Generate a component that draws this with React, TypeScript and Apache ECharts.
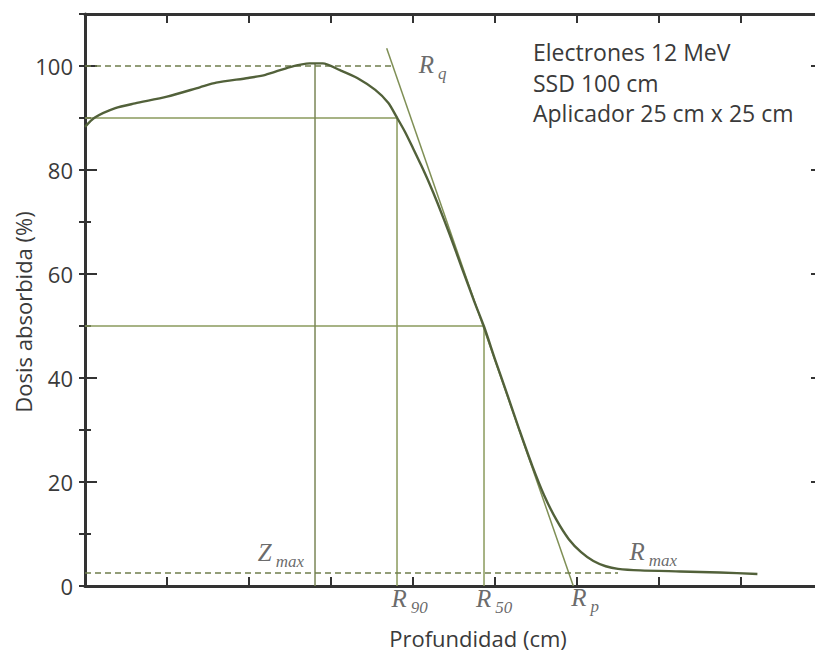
import React, { useEffect, useRef } from "react";
import * as echarts from "echarts";

// Depth (arbitrary units, one per x tick) and absorbed dose (%)
const depth = [0, 0.12, 0.37, 0.61, 1.0, 1.4, 1.6, 1.99, 2.2, 2.5, 2.74, 2.9, 3.11, 3.32, 3.54, 3.7, 3.8, 3.9, 4.0, 4.1, 4.2, 4.3, 4.45, 4.6, 4.75, 4.866, 5.0, 5.15, 5.3, 5.45, 5.6, 5.75, 5.9, 6.05, 6.2, 6.35, 6.5, 6.77, 7.26, 7.74, 8.2];
const dose = [88.3, 90.1, 91.9, 92.8, 94.1, 95.9, 96.8, 97.7, 98.3, 99.8, 100.5, 100.5, 99.2, 97.7, 95.4, 92.9, 90.2, 87.4, 84.2, 80.9, 77.4, 73.6, 67.5, 61.0, 54.6, 49.9, 43.6, 36.8, 29.9, 23.3, 17.4, 12.7, 9.0, 6.5, 4.8, 3.8, 3.3, 3.0, 2.8, 2.6, 2.3];

// Characteristic depths
const zMax = 2.805;
const r90 = 3.805;
const r50 = 4.866;
const rp = 5.955;
const rqTop = [3.679, 103.4];
const dMaxLevel = 100;
const tailLevel = 2.5;
const dashTopEnd = 3.75;
const dashBottomEnd = 6.5;

// Annotation labels: position, main letter, subscript
const labelX = [2.39, 3.96, 4.99, 6.1, 6.93, 4.24];
const labelY = [6.39, -2.46, -2.46, -2.27, 6.58, 100.27];
const labelMain = ["Z", "R", "R", "R", "R", "R"];
const labelSub = ["max", "90", "50", "p", "max", "q"];

const infoLines = ["Electrones 12 MeV", "SSD 100 cm", "Aplicador 25 cm x 25 cm"];
const xName = "Profundidad (cm)";
const yName = "Dosis absorbida (%)";

const AXIS = "#333333";
const TEXT = "#3a3a3a";
const CURVE = "#52613a";
const GUIDE = "#8a9a5c";
const DASH = "#6f7d4c";
const SANS = "Open Sans";
const SERIF = "Liberation Serif";

export default function App() {
  const ref = useRef<HTMLDivElement>(null);
  useEffect(() => {
    if (!ref.current) return;
    const chart = echarts.init(ref.current, undefined, { renderer: "svg" });
    const seg = (pts: number[][], color: string, width: number, dashed = false) => ({
      type: "line",
      data: pts,
      showSymbol: false,
      silent: true,
      lineStyle: { color, width, type: dashed ? [6, 4] : "solid" },
      z: 2,
    });
    const tickAxisX = (position: string) => ({
      type: "value",
      position,
      min: 0,
      max: 9,
      interval: 1,
      axisLine: { show: true, onZero: false, lineStyle: { color: AXIS, width: 3 } },
      axisTick: { show: true, inside: true, length: 9, lineStyle: { color: AXIS, width: 2 } },
      axisLabel: { show: false },
      splitLine: { show: false },
    });
    const majorY = (position: string, labels: boolean) => ({
      type: "value",
      position,
      min: 0,
      max: 110,
      interval: 20,
      axisLine: { show: true, onZero: false, lineStyle: { color: AXIS, width: 3 } },
      axisTick: { show: true, inside: true, length: 12, lineStyle: { color: AXIS, width: 2 } },
      axisLabel: {
        show: labels,
        showMaxLabel: false,
        fontFamily: SANS,
        fontSize: 22,
        color: TEXT,
        margin: 12,
      },
      splitLine: { show: false },
    });
    const minorY = (position: string) => ({
      type: "value",
      position,
      min: 0,
      max: 110,
      interval: 10,
      axisLine: { show: false },
      axisTick: { show: true, inside: true, length: 6, lineStyle: { color: AXIS, width: 2 } },
      axisLabel: { show: false },
      splitLine: { show: false },
    });

    const curveData = depth.map((d, i) => [d, dose[i]]);
    const labelData = labelX.map((x, i) => ({
      value: [x, labelY[i]],
      label: { formatter: `{m|${labelMain[i]}}{s|${labelSub[i]}}` },
    }));

    chart.setOption({
      animation: false,
      backgroundColor: "#ffffff",
      grid: { left: 85, top: 14, right: 7, height: 572 },
      xAxis: [tickAxisX("bottom"), tickAxisX("top")],
      yAxis: [majorY("left", true), majorY("right", false), minorY("left"), minorY("right")],
      series: [
        seg([[0, 90], [r90, 90]], GUIDE, 1.5),
        seg([[0, 50], [r50, 50]], GUIDE, 1.5),
        seg([[zMax, 0], [zMax, 100.5]], "#7a8657", 1.5),
        seg([[r90, 0], [r90, 90]], GUIDE, 1.5),
        seg([[r50, 0], [r50, 50]], GUIDE, 1.5),
        seg([rqTop, [rp, 0]], "#7f8f55", 1.5),
        seg([[0, dMaxLevel], [dashTopEnd, dMaxLevel]], DASH, 1.5, true),
        seg([[0, tailLevel], [dashBottomEnd, tailLevel]], DASH, 1.5, true),
        {
          type: "line",
          data: curveData,
          smooth: 0.25,
          showSymbol: false,
          silent: true,
          lineStyle: { color: CURVE, width: 2.4 },
          z: 3,
        },
        {
          type: "scatter",
          data: labelData,
          symbolSize: 0,
          clip: false,
          silent: true,
          label: {
            show: true,
            position: "inside",
            align: "center",
            verticalAlign: "middle",
            rich: {
              m: {
                fontFamily: SERIF,
                fontStyle: "italic",
                fontSize: 25,
                lineHeight: 25,
                padding: [0, 4, 0, 0],
                verticalAlign: "top",
                color: "#444",
              },
              s: {
                fontFamily: SERIF,
                fontStyle: "italic",
                fontSize: 17,
                lineHeight: 17,
                padding: [13, 0, 0, 0],
                verticalAlign: "top",
                color: "#444",
              },
            },
          },
        },
      ],
      graphic: [
        ...infoLines.map((t, i) => ({
          type: "text",
          x: 533,
          y: 52 + i * 30.5,
          silent: true,
          style: {
            text: t,
            fontFamily: SANS,
            fontSize: 23,
            fill: TEXT,
            align: "left",
            verticalAlign: "middle",
          },
        })),
        {
          type: "text",
          x: 478,
          y: 638,
          silent: true,
          style: {
            text: xName,
            fontFamily: SANS,
            fontSize: 22,
            fill: TEXT,
            align: "center",
            verticalAlign: "middle",
          },
        },
        {
          type: "text",
          x: 23,
          y: 312,
          rotation: Math.PI / 2,
          silent: true,
          style: {
            text: yName,
            fontFamily: SANS,
            fontSize: 22,
            fill: TEXT,
            align: "center",
            verticalAlign: "middle",
          },
        },
      ],
    });
    return () => chart.dispose();
  }, []);
  return (
    <div
      ref={ref}
      style={{ position: "fixed", left: 0, top: 0, width: 830, height: 653, background: "#fff" }}
    />
  );
}
